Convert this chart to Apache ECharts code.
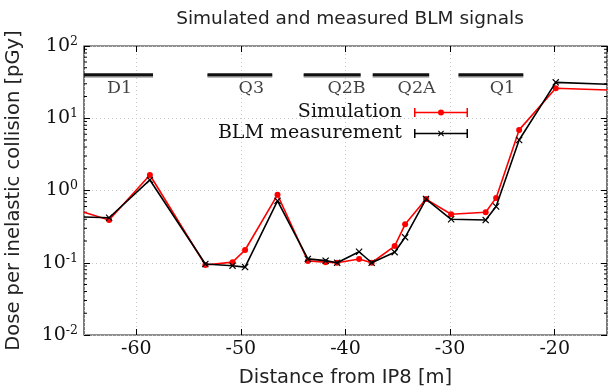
<!DOCTYPE html>
<html>
<head>
<meta charset="utf-8">
<script src="https://cdn.jsdelivr.net/npm/echarts@6/dist/echarts.min.js"></script>
<style>
  html, body { margin: 0; padding: 0; background: #fff; }
  #chart { width: 612px; height: 390px; }
</style>
</head>
<body>
<div id="chart"></div>
<script>
// distance from IP8 [m] for every measured / simulated point
const distance = [-65, -62.6, -58.7, -53.4, -50.8, -49.6, -46.5, -43.6, -41.9, -40.8, -38.7,
  -37.5, -35.3, -34.3, -32.3, -29.9, -26.6, -25.6, -23.4, -19.9, -15]
const simulation = [0.50, 0.39, 1.64, 0.093, 0.102, 0.15, 0.87, 0.106, 0.102, 0.10, 0.113,
  0.10, 0.17, 0.34, 0.76, 0.47, 0.50, 0.79, 6.9, 26, 24.6]
const measurement = [0.43, 0.42, 1.40, 0.096, 0.091, 0.087, 0.72, 0.113, 0.107, 0.10, 0.142,
  0.10, 0.14, 0.225, 0.76, 0.40, 0.39, 0.60, 5.0, 31.4, 29.5]

// magnets drawn as bars above the curves
const magnetNames = ['D1', 'Q3', 'Q2B', 'Q2A', 'Q1']
const magnetStart = [-65, -53.2, -44.0, -37.4, -29.2]
const magnetEnd = [-58.4, -47.0, -38.55, -32.0, -23.0]
const magnetLabelX = [-61.6, -49.0, -39.9, -33.2, -25.0]
const magnetBarLevel = 40
const magnetLabelLevel = 26

const xMin = -65
const xMax = -15
const yMin = 0.01
const yMax = 100
const minorTickValues = []
for (let e = -2; e < 2; e++) {
  for (let m = 2; m <= 9; m++) minorTickValues.push(m * Math.pow(10, e))
}

const serif = 'DejaVu Serif'
const sans = 'DejaVu Sans'

const xMarker = 'path://M0,1.2L1.2,0L5,3.8L8.8,0L10,1.2L6.2,5L10,8.8L8.8,10L5,6.2L1.2,10L0,8.8L3.8,5Z'
const iconBase = 'M0,0H1.5V9H0Z M52.5,0H54V9H52.5Z M1.5,3.75H52.5V5.25H1.5Z '
const simIcon = 'path://' + iconBase + 'M24,4.5a3,3 0 1,1 6,0a3,3 0 1,1 -6,0Z'
const blmIcon = 'path://' + iconBase +
  'M24,2.22L24.72,1.5L27,3.78L29.28,1.5L30,2.22L27.72,4.5L30,6.78L29.28,7.5L27,5.22L24.72,7.5L24,6.78L26.28,4.5Z'

function pairs(xs, ys) {
  return xs.map((x, i) => {
    const item = { value: [x, ys[i]] }
    if (i === 0 || i === xs.length - 1) item.symbol = 'none'
    return item
  })
}

const magnetBars = []
magnetNames.forEach((n, i) => {
  magnetBars.push([magnetStart[i], magnetBarLevel])
  magnetBars.push([magnetEnd[i], magnetBarLevel])
  magnetBars.push([magnetEnd[i], '-'])
})
const magnetLabels = magnetNames.map((n, i) => ({ name: n, value: [magnetLabelX[i], magnetLabelLevel] }))

const chart = echarts.init(document.getElementById('chart'), null, { renderer: 'canvas' })

const tickStyle = { show: true, inside: true, length: 6, lineStyle: { color: '#000', width: 1 } }
const gridDots = { show: true, lineStyle: { color: '#c8c8c8', type: [1, 3], width: 1 } }

chart.setOption({
  animation: false,
  title: {
    text: 'Simulated and measured BLM signals',
    left: 345,
    textAlign: 'center',
    top: 5,
    textStyle: { fontFamily: sans, fontSize: 18.5, fontWeight: 'normal', color: '#222' }
  },
  legend: {
    data: [
      { name: 'Simulation', icon: simIcon },
      { name: 'BLM measurement', icon: blmIcon }
    ],
    orient: 'vertical',
    align: 'right',
    right: 139,
    top: 98,
    itemWidth: 54,
    itemHeight: 9,
    itemGap: 2,
    textStyle: { fontFamily: serif, fontSize: 19, color: '#111', padding: [0, 7, 0, 0] }
  },
  grid: {
    left: 84,
    right: 5,
    top: 46,
    bottom: 55,
    outerBoundsMode: 'none',
    containLabel: false,
    show: true,
    borderColor: '#222',
    borderWidth: 1.2
  },
  xAxis: [{
    type: 'value',
    min: xMin,
    max: xMax,
    splitNumber: 5,
    name: 'Distance from IP8 [m]',
    nameLocation: 'middle',
    nameGap: 33,
    nameTextStyle: { fontFamily: sans, fontSize: 19.5, color: '#222' },
    axisLine: { show: false },
    axisTick: tickStyle,
    axisLabel: {
      showMinLabel: false,
      showMaxLabel: false,
      margin: 5,
      fontFamily: serif,
      fontSize: 19,
      color: '#111'
    },
    splitLine: gridDots
  }, {
    type: 'value',
    position: 'top',
    min: xMin,
    max: xMax,
    splitNumber: 5,
    axisLine: { show: false },
    axisTick: tickStyle,
    axisLabel: { show: false },
    splitLine: { show: false }
  }],
  yAxis: [{
    type: 'log',
    logBase: 10,
    min: yMin,
    max: yMax,
    name: 'Dose per inelastic collision [pGy]',
    nameLocation: 'middle',
    nameGap: 60,
    nameTextStyle: { fontFamily: sans, fontSize: 19.5, color: '#222' },
    axisLine: { show: false },
    axisTick: tickStyle,
    axisLabel: {
      margin: 6,
      formatter: v => '{b|10}{s|' + Math.round(Math.log10(v)) + '}',
      rich: {
        b: { fontFamily: serif, fontSize: 19, color: '#111', lineHeight: 22 },
        s: { fontFamily: serif, fontSize: 12.5, color: '#111', lineHeight: 13, verticalAlign: 'top' }
      }
    },
    splitLine: gridDots
  }, {
    type: 'log',
    logBase: 10,
    position: 'right',
    min: yMin,
    max: yMax,
    axisLine: { show: false },
    axisTick: tickStyle,
    axisLabel: { show: false },
    splitLine: { show: false }
  }],
  series: [{
    name: 'magnets',
    type: 'line',
    data: magnetBars,
    symbol: 'none',
    silent: true,
    lineStyle: { color: '#111', width: 3, shadowColor: 'rgba(0,0,0,0.35)', shadowOffsetY: 1.5 }
  }, {
    name: 'magnet labels',
    type: 'scatter',
    data: magnetLabels,
    symbolSize: 0,
    silent: true,
    label: {
      show: true,
      position: 'inside',
      formatter: '{b}',
      fontFamily: serif,
      fontSize: 17.5,
      color: '#111'
    }
  }, {
    name: 'minor ticks',
    type: 'custom',
    silent: true,
    data: minorTickValues,
    encode: { y: 0 },
    renderItem: (params, api) => {
      const v = api.value(0)
      const l = api.coord([xMin, v])
      const r = api.coord([xMax, v])
      return {
        type: 'group',
        children: [
          { type: 'line', shape: { x1: l[0], y1: l[1], x2: l[0] + 3, y2: l[1] }, style: { stroke: '#000', lineWidth: 1 } },
          { type: 'line', shape: { x1: r[0], y1: r[1], x2: r[0] - 3, y2: r[1] }, style: { stroke: '#000', lineWidth: 1 } }
        ]
      }
    }
  }, {
    name: 'Simulation',
    type: 'line',
    data: pairs(distance, simulation),
    symbol: 'circle',
    symbolSize: 6,
    showAllSymbol: true,
    color: '#ff0000',
    lineStyle: { color: '#ff0000', width: 1.6 },
    itemStyle: { color: '#ff0000' },
    z: 3
  }, {
    name: 'BLM measurement',
    type: 'line',
    data: pairs(distance, measurement),
    symbol: xMarker,
    symbolSize: 7,
    showAllSymbol: true,
    color: '#000',
    lineStyle: { color: '#000', width: 1.6 },
    itemStyle: { color: '#000' },
    z: 4
  }]
})
</script>
</body>
</html>
